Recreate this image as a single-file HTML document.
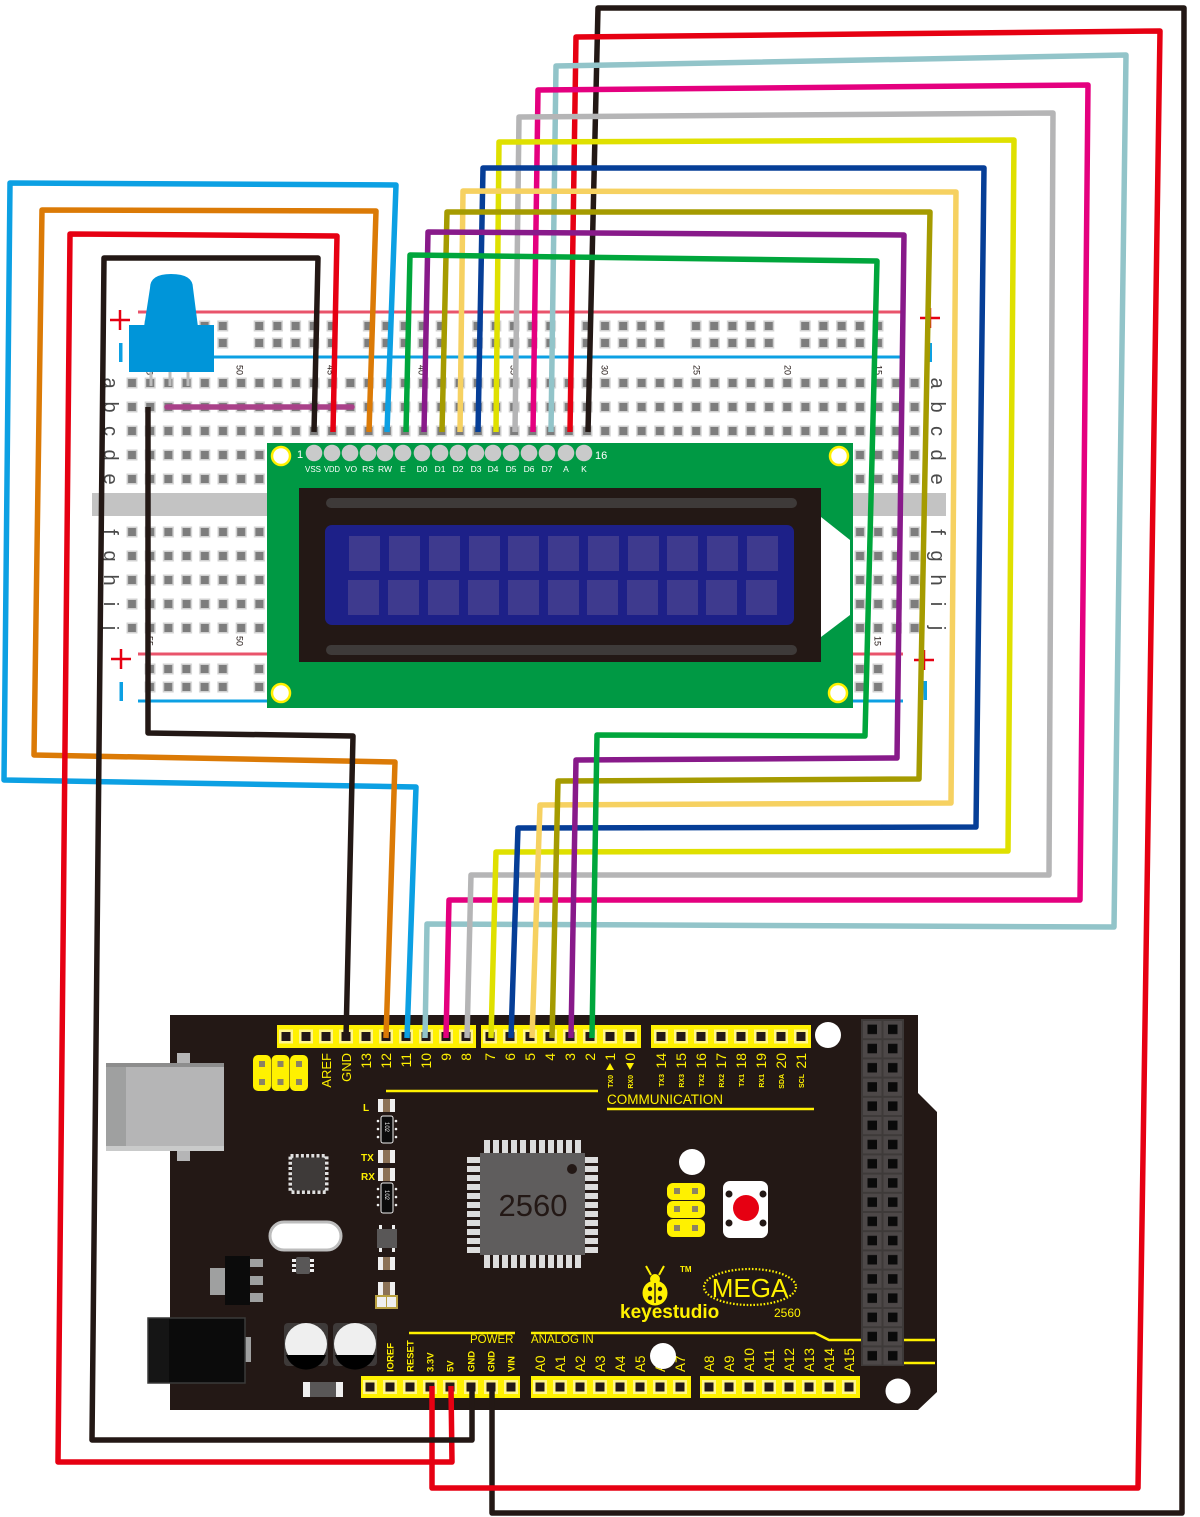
<!DOCTYPE html>
<html><head><meta charset="utf-8">
<style>
html,body{margin:0;padding:0;background:#fff;}
svg{display:block;}
text{font-family:"Liberation Sans",sans-serif;}
</style></head><body>
<svg width="1200" height="1517" viewBox="0 0 1200 1517" xmlns="http://www.w3.org/2000/svg">
<defs>
<pattern id="hA" x="122.9" y="371" width="18.2" height="24" patternUnits="userSpaceOnUse">
 <rect x="3.6" y="6.5" width="11" height="11" fill="#d2d2d2"/><rect x="5.1" y="8" width="8" height="8" fill="#7d7d7d"/>
</pattern>
<pattern id="hB" x="122.9" y="520" width="18.2" height="24" patternUnits="userSpaceOnUse">
 <rect x="3.6" y="6.5" width="11" height="11" fill="#d2d2d2"/><rect x="5.1" y="8" width="8" height="8" fill="#7d7d7d"/>
</pattern>
<pattern id="rT" x="140.9" y="317.5" width="109.2" height="17" patternUnits="userSpaceOnUse">
 <g fill="#d2d2d2"><rect x="3.6" y="3" width="11" height="11"/><rect x="21.8" y="3" width="11" height="11"/><rect x="40" y="3" width="11" height="11"/><rect x="58.2" y="3" width="11" height="11"/><rect x="76.4" y="3" width="11" height="11"/></g>
 <g fill="#7d7d7d"><rect x="5.1" y="4.5" width="8" height="8"/><rect x="23.3" y="4.5" width="8" height="8"/><rect x="41.5" y="4.5" width="8" height="8"/><rect x="59.7" y="4.5" width="8" height="8"/><rect x="77.9" y="4.5" width="8" height="8"/></g>
</pattern>
<pattern id="rB" x="140.9" y="660" width="109.2" height="18" patternUnits="userSpaceOnUse">
 <g fill="#d2d2d2"><rect x="3.6" y="3.5" width="11" height="11"/><rect x="21.8" y="3.5" width="11" height="11"/><rect x="40" y="3.5" width="11" height="11"/><rect x="58.2" y="3.5" width="11" height="11"/><rect x="76.4" y="3.5" width="11" height="11"/></g>
 <g fill="#7d7d7d"><rect x="5.1" y="5" width="8" height="8"/><rect x="23.3" y="5" width="8" height="8"/><rect x="41.5" y="5" width="8" height="8"/><rect x="59.7" y="5" width="8" height="8"/><rect x="77.9" y="5" width="8" height="8"/></g>
</pattern>
<pattern id="dh" x="862" y="1020" width="20.5" height="19.2" patternUnits="userSpaceOnUse">
 <rect x="1" y="1" width="18.5" height="17.2" fill="#4d4848"/><rect x="5.5" y="4.6" width="9.5" height="9.5" fill="#0a0a0a"/>
</pattern>
<g id="pin"><rect x="-7" y="-7" width="14" height="14" fill="#fff58c"/><rect x="-4.5" y="-4.5" width="9" height="9" fill="#231815"/></g>
<g id="led"><rect x="0" y="0" width="17" height="13" fill="#efefef"/><rect x="5" y="0" width="7" height="13" fill="#8c7256"/></g>
</defs>

<!-- ============ BREADBOARD ============ -->
<rect x="92" y="493" width="854" height="23" fill="#c3c3c3"/>
<line x1="138" y1="312" x2="905" y2="312" stroke="#e9546b" stroke-width="3"/>
<line x1="138" y1="357" x2="903" y2="357" stroke="#0ca0e3" stroke-width="3"/>
<line x1="138" y1="654" x2="903" y2="654" stroke="#e9546b" stroke-width="3"/>
<line x1="138" y1="701" x2="903" y2="701" stroke="#0ca0e3" stroke-width="3"/>
<rect x="140.9" y="317.5" width="746" height="34" fill="url(#rT)"/>
<rect x="140.9" y="660" width="746" height="36" fill="url(#rB)"/>
<rect x="122.9" y="371" width="800.8" height="120" fill="url(#hA)"/>
<rect x="122.9" y="520" width="800.8" height="120" fill="url(#hB)"/>
<!-- + / - marks -->
<g stroke="#e60012" stroke-width="2.5">
 <line x1="110" y1="320" x2="130" y2="320"/><line x1="120" y1="310" x2="120" y2="330"/>
 <line x1="920" y1="318" x2="940" y2="318"/><line x1="930" y1="308" x2="930" y2="328"/>
 <line x1="111" y1="659" x2="131" y2="659"/><line x1="121" y1="649" x2="121" y2="669"/>
 <line x1="914" y1="660" x2="934" y2="660"/><line x1="924" y1="650" x2="924" y2="670"/>
</g>
<g fill="#0ca0e3">
 <rect x="119" y="343" width="3.5" height="19"/><rect x="928.5" y="343" width="3.5" height="19"/>
 <rect x="119.5" y="682" width="3.5" height="19"/><rect x="923.5" y="681" width="3.5" height="19"/>
</g>
<!-- row letters -->
<g font-size="20" fill="#4a4a4a" text-anchor="middle">
 <text transform="translate(104,383) rotate(90)">a</text>
 <text transform="translate(104,407) rotate(90)">b</text>
 <text transform="translate(104,431) rotate(90)">c</text>
 <text transform="translate(104,455) rotate(90)">d</text>
 <text transform="translate(104,479) rotate(90)">e</text>
 <text transform="translate(104,532) rotate(90)">f</text>
 <text transform="translate(104,556) rotate(90)">g</text>
 <text transform="translate(104,580) rotate(90)">h</text>
 <text transform="translate(104,604) rotate(90)">i</text>
 <text transform="translate(104,628) rotate(90)">j</text>
 <text transform="translate(931,383) rotate(90)">a</text>
 <text transform="translate(931,407) rotate(90)">b</text>
 <text transform="translate(931,431) rotate(90)">c</text>
 <text transform="translate(931,455) rotate(90)">d</text>
 <text transform="translate(931,479) rotate(90)">e</text>
 <text transform="translate(931,532) rotate(90)">f</text>
 <text transform="translate(931,556) rotate(90)">g</text>
 <text transform="translate(931,580) rotate(90)">h</text>
 <text transform="translate(931,604) rotate(90)">i</text>
 <text transform="translate(931,628) rotate(90)">j</text>
</g>
<!-- column numbers -->
<g font-size="9" fill="#231815" text-anchor="middle">
 <text transform="translate(146.5,370) rotate(90)">55</text>
 <text transform="translate(236.5,370) rotate(90)">50</text>
 <text transform="translate(327.5,370) rotate(90)">45</text>
 <text transform="translate(418.5,370) rotate(90)">40</text>
 <text transform="translate(510.5,370) rotate(90)">35</text>
 <text transform="translate(601.5,370) rotate(90)">30</text>
 <text transform="translate(693.5,370) rotate(90)">25</text>
 <text transform="translate(784.5,370) rotate(90)">20</text>
 <text transform="translate(875.5,370) rotate(90)">15</text>
 <text transform="translate(146.5,641) rotate(90)">55</text>
 <text transform="translate(236.5,641) rotate(90)">50</text>
 <text transform="translate(874.5,641) rotate(90)">15</text>
</g>

<!-- potentiometer -->
<g>
 <line x1="151" y1="370" x2="151" y2="386" stroke="#bdbdbd" stroke-width="3"/>
 <line x1="170" y1="370" x2="170" y2="386" stroke="#bdbdbd" stroke-width="3"/>
 <line x1="188" y1="370" x2="188" y2="386" stroke="#bdbdbd" stroke-width="3"/>
 <path d="M150,288 Q150,274 171,274 Q193,274 193,288 L198,327 L144,327 Z" fill="#0095d9"/>
 <rect x="129" y="325" width="85" height="47" fill="#0095d9"/>
</g>
<!-- jumper -->
<line x1="167" y1="407" x2="352" y2="407" stroke="#a94189" stroke-width="5.5" stroke-linecap="round"/>

<!-- ============ LCD ============ -->
<rect x="267" y="443" width="586" height="265" fill="#009944"/>
<g fill="#fff" stroke="#fff100" stroke-width="2.5">
 <circle cx="281" cy="456" r="9"/><circle cx="839" cy="456" r="9"/>
 <circle cx="281" cy="693" r="9"/><circle cx="838" cy="693" r="9"/>
</g>
<rect x="299" y="488" width="522" height="174" fill="#231815"/>
<rect x="326" y="498" width="471" height="10" rx="5" fill="#3e3a39"/>
<rect x="326" y="645" width="471" height="10" rx="5" fill="#3e3a39"/>
<polygon points="821,517 850,540 850,615 821,637" fill="#fff"/>
<rect x="325" y="525" width="469" height="100" rx="7" fill="#1d2088"/>
<g fill="#3e3a8e">
 <rect x="349" y="536" width="31" height="35"/><rect x="389" y="536" width="31" height="35"/><rect x="429" y="536" width="31" height="35"/><rect x="469" y="536" width="31" height="35"/><rect x="508" y="536" width="31" height="35"/><rect x="548" y="536" width="31" height="35"/><rect x="588" y="536" width="31" height="35"/><rect x="628" y="536" width="31" height="35"/><rect x="667" y="536" width="31" height="35"/><rect x="707" y="536" width="31" height="35"/><rect x="747" y="536" width="31" height="35"/>
 <rect x="348" y="580" width="31" height="35"/><rect x="388" y="580" width="31" height="35"/><rect x="428" y="580" width="31" height="35"/><rect x="468" y="580" width="31" height="35"/><rect x="508" y="580" width="31" height="35"/><rect x="548" y="580" width="31" height="35"/><rect x="587" y="580" width="31" height="35"/><rect x="627" y="580" width="31" height="35"/><rect x="667" y="580" width="31" height="35"/><rect x="706" y="580" width="31" height="35"/><rect x="746" y="580" width="31" height="35"/>
</g>
<g fill="#c9caca">
 <circle cx="314" cy="453" r="8.3"/><circle cx="332" cy="453" r="8.3"/><circle cx="350" cy="453" r="8.3"/><circle cx="368" cy="453" r="8.3"/><circle cx="385" cy="453" r="8.3"/><circle cx="403" cy="453" r="8.3"/><circle cx="422" cy="453" r="8.3"/><circle cx="440" cy="453" r="8.3"/><circle cx="458" cy="453" r="8.3"/><circle cx="476" cy="453" r="8.3"/><circle cx="493" cy="453" r="8.3"/><circle cx="511" cy="453" r="8.3"/><circle cx="529" cy="453" r="8.3"/><circle cx="547" cy="453" r="8.3"/><circle cx="566" cy="453" r="8.3"/><circle cx="584" cy="453" r="8.3"/>
</g>
<g fill="#fff" font-size="8.5" text-anchor="middle">
 <text x="313" y="472" textLength="16" lengthAdjust="spacingAndGlyphs">VSS</text><text x="332" y="472" textLength="16" lengthAdjust="spacingAndGlyphs">VDD</text><text x="351" y="472">VO</text><text x="368" y="472">RS</text><text x="385" y="472">RW</text><text x="403" y="472">E</text><text x="422" y="472">D0</text><text x="440" y="472">D1</text><text x="458" y="472">D2</text><text x="476" y="472">D3</text><text x="493" y="472">D4</text><text x="511" y="472">D5</text><text x="529" y="472">D6</text><text x="547" y="472">D7</text><text x="566" y="472">A</text><text x="584" y="472">K</text>
</g>
<text x="297" y="458" font-size="11" fill="#fff">1</text>
<text x="595" y="459" font-size="11" fill="#fff">16</text>

<!-- ============ ARDUINO MEGA ============ -->
<polygon points="170,1015 918,1015 918,1093 937,1112 937,1392 918,1410 170,1410" fill="#231815"/>
<!-- USB -->
<rect x="177" y="1053" width="13" height="108" fill="#b5b5b6"/>
<rect x="106" y="1063" width="118" height="88" fill="#b5b5b6"/>
<rect x="106" y="1063" width="20" height="88" fill="#9fa0a0"/>
<rect x="106" y="1063" width="118" height="4" fill="#8d8d8d"/>
<rect x="106" y="1146" width="118" height="5" fill="#c9caca"/>
<!-- DC jack -->
<rect x="245" y="1337" width="6" height="25" fill="#9fa0a0"/>
<rect x="148" y="1318" width="97" height="65" fill="#0b0b0b" stroke="#3a3a3a" stroke-width="1.5"/>
<rect x="149" y="1319" width="20" height="63" fill="#151515"/>
<!-- capacitors -->
<rect x="284" y="1323" width="44" height="43" rx="4" fill="#3e3a39"/>
<rect x="333" y="1323" width="44" height="43" rx="4" fill="#3e3a39"/>
<circle cx="306" cy="1344" r="21" fill="#efefef"/><circle cx="355" cy="1344" r="21" fill="#efefef"/>
<path d="M286,1355 A21,21 0 0 0 326,1355 Z" fill="#000"/>
<path d="M335,1355 A21,21 0 0 0 375,1355 Z" fill="#000"/>
<!-- diode -->
<rect x="303" y="1382" width="40" height="15" fill="#efefef"/><rect x="310" y="1382" width="26" height="15" fill="#595757"/>
<!-- ICSP left -->
<g fill="#fff100"><rect x="253" y="1055" width="18" height="36" rx="5"/><rect x="271.5" y="1055" width="18" height="36" rx="5"/><rect x="290" y="1055" width="18" height="36" rx="5"/></g>
<g fill="#8c8462"><rect x="259" y="1061" width="6" height="6"/><rect x="259" y="1079" width="6" height="6"/><rect x="277.5" y="1061" width="6" height="6"/><rect x="277.5" y="1079" width="6" height="6"/><rect x="296" y="1061" width="6" height="6"/><rect x="296" y="1079" width="6" height="6"/></g>
<!-- QFN -->
<rect x="290.5" y="1156" width="36" height="36" fill="none" stroke="#e0e0e0" stroke-width="4" stroke-dasharray="3 2.2"/>
<rect x="292" y="1157.5" width="33" height="33" rx="2" fill="#3e3a39"/>
<!-- crystal -->
<rect x="270" y="1222" width="71" height="28" rx="14" fill="#fff" stroke="#bdbdbd" stroke-width="3"/>
<!-- small chip -->
<rect x="292" y="1259" width="22" height="3" fill="#efefef"/><rect x="292" y="1264" width="22" height="3" fill="#efefef"/><rect x="292" y="1269" width="22" height="3" fill="#efefef"/>
<rect x="296" y="1257" width="14" height="17" rx="2" fill="#595757"/>
<!-- regulator -->
<rect x="210" y="1268" width="16" height="27" fill="#9fa0a0"/>
<rect x="250" y="1259" width="13" height="8" fill="#9fa0a0"/><rect x="250" y="1276" width="13" height="9" fill="#9fa0a0"/><rect x="250" y="1293" width="13" height="9" fill="#9fa0a0"/>
<rect x="225" y="1256" width="25" height="49" fill="#0b0b0b"/>
<!-- L TX RX components -->
<use href="#led" x="378" y="1099"/>
<use href="#led" x="378" y="1150"/>
<use href="#led" x="378" y="1168"/>
<use href="#led" x="378" y="1257"/>
<use href="#led" x="378" y="1282"/>
<g>
 <rect x="381" y="1116" width="12" height="27" rx="2" fill="#0b0b0b" stroke="#efefef" stroke-width="1"/>
 <rect x="381" y="1183" width="12" height="30" rx="2" fill="#0b0b0b" stroke="#efefef" stroke-width="1"/>
 <g fill="#efefef"><circle cx="378" cy="1121" r="1.3"/><circle cx="378" cy="1129" r="1.3"/><circle cx="378" cy="1137" r="1.3"/><circle cx="396" cy="1121" r="1.3"/><circle cx="396" cy="1129" r="1.3"/><circle cx="396" cy="1137" r="1.3"/>
 <circle cx="378" cy="1189" r="1.3"/><circle cx="378" cy="1197" r="1.3"/><circle cx="378" cy="1205" r="1.3"/><circle cx="396" cy="1189" r="1.3"/><circle cx="396" cy="1197" r="1.3"/><circle cx="396" cy="1205" r="1.3"/></g>
 <text transform="translate(385,1122) rotate(90)" font-size="6" fill="#efefef">102</text>
 <text transform="translate(385,1190) rotate(90)" font-size="6" fill="#efefef">102</text>
 <rect x="379" y="1225" width="3" height="27" fill="#efefef"/><rect x="392" y="1225" width="3" height="27" fill="#efefef"/>
 <rect x="377" y="1229" width="20" height="19" fill="#595757"/>
 <rect x="375" y="1295" width="23" height="14" fill="#b8a040"/><rect x="377" y="1297" width="9" height="10" fill="#efefef"/><rect x="387" y="1297" width="9" height="10" fill="#efefef"/>
</g>
<g fill="#fff100" font-size="10" font-weight="bold">
 <text x="363" y="1111">L</text><text x="361" y="1161">TX</text><text x="361" y="1180">RX</text>
</g>
<!-- main chip -->
<g fill="#dcdcdc">
 <rect x="484" y="1140" width="6" height="14"/><rect x="493" y="1140" width="6" height="14"/><rect x="502" y="1140" width="6" height="14"/><rect x="511" y="1140" width="6" height="14"/><rect x="520" y="1140" width="6" height="14"/><rect x="530" y="1140" width="6" height="14"/><rect x="539" y="1140" width="6" height="14"/><rect x="548" y="1140" width="6" height="14"/><rect x="557" y="1140" width="6" height="14"/><rect x="566" y="1140" width="6" height="14"/><rect x="575" y="1140" width="6" height="14"/>
 <rect x="484" y="1254" width="6" height="14"/><rect x="493" y="1254" width="6" height="14"/><rect x="502" y="1254" width="6" height="14"/><rect x="511" y="1254" width="6" height="14"/><rect x="520" y="1254" width="6" height="14"/><rect x="530" y="1254" width="6" height="14"/><rect x="539" y="1254" width="6" height="14"/><rect x="548" y="1254" width="6" height="14"/><rect x="557" y="1254" width="6" height="14"/><rect x="566" y="1254" width="6" height="14"/><rect x="575" y="1254" width="6" height="14"/>
 <rect x="467" y="1157" width="14" height="6"/><rect x="467" y="1166" width="14" height="6"/><rect x="467" y="1175" width="14" height="6"/><rect x="467" y="1184" width="14" height="6"/><rect x="467" y="1193" width="14" height="6"/><rect x="467" y="1202" width="14" height="6"/><rect x="467" y="1211" width="14" height="6"/><rect x="467" y="1220" width="14" height="6"/><rect x="467" y="1229" width="14" height="6"/><rect x="467" y="1238" width="14" height="6"/><rect x="467" y="1247" width="14" height="6"/>
 <rect x="584" y="1157" width="14" height="6"/><rect x="584" y="1166" width="14" height="6"/><rect x="584" y="1175" width="14" height="6"/><rect x="584" y="1184" width="14" height="6"/><rect x="584" y="1193" width="14" height="6"/><rect x="584" y="1202" width="14" height="6"/><rect x="584" y="1211" width="14" height="6"/><rect x="584" y="1220" width="14" height="6"/><rect x="584" y="1229" width="14" height="6"/><rect x="584" y="1238" width="14" height="6"/><rect x="584" y="1247" width="14" height="6"/>
</g>
<rect x="480" y="1153" width="105" height="102" fill="#5f5d5d"/>
<circle cx="572" cy="1169" r="5" fill="#231815"/>
<text x="533" y="1216" font-size="31" fill="#231815" text-anchor="middle">2560</text>
<!-- middle ICSP, reset -->
<circle cx="692" cy="1162" r="13" fill="#fff"/>
<g fill="#fff100"><rect x="667" y="1183" width="38" height="17" rx="6"/><rect x="667" y="1201" width="38" height="17" rx="6"/><rect x="667" y="1219" width="38" height="18" rx="6"/></g>
<g fill="#8c8462"><rect x="674" y="1188" width="6" height="6"/><rect x="692" y="1188" width="6" height="6"/><rect x="674" y="1206" width="6" height="6"/><rect x="692" y="1206" width="6" height="6"/><rect x="674" y="1225" width="6" height="6"/><rect x="692" y="1225" width="6" height="6"/></g>
<rect x="723" y="1181" width="45" height="57" rx="7" fill="#fff"/>
<circle cx="746" cy="1208" r="13" fill="#e60012"/>
<g fill="#231815"><circle cx="729" cy="1194" r="3.5"/><circle cx="763" cy="1194" r="3.5"/><circle cx="729" cy="1223" r="3.5"/><circle cx="763" cy="1223" r="3.5"/></g>
<!-- logo -->
<g fill="#fff100">
 <circle cx="655" cy="1279" r="5"/>
 <circle cx="655" cy="1293" r="12.5"/>
 <line x1="651" y1="1275" x2="646" y2="1266" stroke="#fff100" stroke-width="2"/>
 <line x1="659" y1="1275" x2="664" y2="1266" stroke="#fff100" stroke-width="2"/>
</g>
<g fill="#231815"><circle cx="650" cy="1289" r="2.2"/><circle cx="660" cy="1289" r="2.2"/><circle cx="650" cy="1298" r="2.2"/><circle cx="660" cy="1298" r="2.2"/><rect x="654.3" y="1283" width="1.4" height="20"/></g>
<text x="680" y="1272" font-size="8" font-weight="bold" fill="#fff100">TM</text>
<text x="620" y="1318" font-size="19" font-weight="bold" fill="#fff100">keyestudio</text>
<ellipse cx="750" cy="1287" rx="46" ry="18" fill="none" stroke="#fff100" stroke-width="2.2" stroke-dasharray="1.6 1.8"/>
<text x="750" y="1297" font-size="26" fill="#fff100" text-anchor="middle">MEGA</text>
<text x="774" y="1317" font-size="12" fill="#fff100">2560</text>

<!-- yellow lines -->
<g stroke="#fff100" stroke-width="2.5" fill="none">
 <line x1="386" y1="1091" x2="598" y2="1091"/>
 <line x1="607" y1="1109" x2="814" y2="1109"/>
 <line x1="409" y1="1333" x2="515" y2="1333"/>
 <polyline points="531,1333 815,1333 829,1340 935,1340"/>
 <line x1="903" y1="1363" x2="935" y2="1363"/>
</g>
<!-- right double header -->
<rect x="861" y="1019" width="43" height="347" fill="#3e3a39"/>
<rect x="862" y="1020" width="41" height="345.6" fill="url(#dh)"/>

<!-- top headers -->
<g fill="#fff100"><rect x="277" y="1025" width="199" height="23"/><rect x="481" y="1025" width="160" height="23"/><rect x="651" y="1025" width="160" height="23"/></g>
<use href="#pin" x="286" y="1036.5"/><use href="#pin" x="306" y="1036.5"/><use href="#pin" x="326" y="1036.5"/><use href="#pin" x="346" y="1036.5"/><use href="#pin" x="366" y="1036.5"/><use href="#pin" x="386" y="1036.5"/><use href="#pin" x="406" y="1036.5"/><use href="#pin" x="426" y="1036.5"/><use href="#pin" x="446" y="1036.5"/><use href="#pin" x="466" y="1036.5"/>
<use href="#pin" x="490" y="1036.5"/><use href="#pin" x="510" y="1036.5"/><use href="#pin" x="530" y="1036.5"/><use href="#pin" x="550" y="1036.5"/><use href="#pin" x="570" y="1036.5"/><use href="#pin" x="590" y="1036.5"/><use href="#pin" x="610" y="1036.5"/><use href="#pin" x="630" y="1036.5"/>
<use href="#pin" x="661" y="1036.5"/><use href="#pin" x="681" y="1036.5"/><use href="#pin" x="701" y="1036.5"/><use href="#pin" x="721" y="1036.5"/><use href="#pin" x="741" y="1036.5"/><use href="#pin" x="761" y="1036.5"/><use href="#pin" x="781" y="1036.5"/><use href="#pin" x="801" y="1036.5"/>
<circle cx="828" cy="1035" r="13" fill="#fff"/>
<!-- top labels -->
<g fill="#fff100" text-anchor="end">
 <text transform="translate(331,1053) rotate(-90)" font-size="13">AREF</text>
 <text transform="translate(351,1053) rotate(-90)" font-size="13">GND</text>
 <g font-size="14">
 <text transform="translate(371,1053) rotate(-90)">13</text>
 <text transform="translate(391,1053) rotate(-90)">12</text>
 <text transform="translate(411,1053) rotate(-90)">11</text>
 <text transform="translate(431,1053) rotate(-90)">10</text>
 <text transform="translate(451,1053) rotate(-90)">9</text>
 <text transform="translate(471,1053) rotate(-90)">8</text>
 <text transform="translate(495,1053) rotate(-90)">7</text>
 <text transform="translate(515,1053) rotate(-90)">6</text>
 <text transform="translate(535,1053) rotate(-90)">5</text>
 <text transform="translate(555,1053) rotate(-90)">4</text>
 <text transform="translate(575,1053) rotate(-90)">3</text>
 <text transform="translate(595,1053) rotate(-90)">2</text>
 <text transform="translate(615,1053) rotate(-90)">1</text>
 <text transform="translate(635,1053) rotate(-90)">0</text>
 <text transform="translate(666,1053) rotate(-90)">14</text>
 <text transform="translate(686,1053) rotate(-90)">15</text>
 <text transform="translate(706,1053) rotate(-90)">16</text>
 <text transform="translate(726,1053) rotate(-90)">17</text>
 <text transform="translate(746,1053) rotate(-90)">18</text>
 <text transform="translate(766,1053) rotate(-90)">19</text>
 <text transform="translate(786,1053) rotate(-90)">20</text>
 <text transform="translate(806,1053) rotate(-90)">21</text>
 </g>
 <g font-size="7" font-weight="bold">
 <text transform="translate(613,1075) rotate(-90)">TX0</text>
 <text transform="translate(633,1075) rotate(-90)">RX0</text>
 <text transform="translate(664,1074) rotate(-90)">TX3</text>
 <text transform="translate(684,1074) rotate(-90)">RX3</text>
 <text transform="translate(704,1074) rotate(-90)">TX2</text>
 <text transform="translate(724,1074) rotate(-90)">RX2</text>
 <text transform="translate(744,1074) rotate(-90)">TX1</text>
 <text transform="translate(764,1074) rotate(-90)">RX1</text>
 <text transform="translate(784,1074) rotate(-90)">SDA</text>
 <text transform="translate(804,1074) rotate(-90)">SCL</text>
 </g>
</g>
<polygon points="606,1070 614,1070 610,1063" fill="#fff100"/>
<polygon points="626,1063 634,1063 630,1070" fill="#fff100"/>
<text x="607" y="1104" font-size="13.5" fill="#fff100">COMMUNICATION</text>

<!-- bottom headers -->
<g fill="#fff100"><rect x="361" y="1376" width="159" height="22"/><rect x="531" y="1376" width="160" height="22"/><rect x="700" y="1376" width="160" height="22"/></g>
<use href="#pin" x="370" y="1387"/><use href="#pin" x="390" y="1387"/><use href="#pin" x="410" y="1387"/><use href="#pin" x="430" y="1387"/><use href="#pin" x="450" y="1387"/><use href="#pin" x="471" y="1387"/><use href="#pin" x="491" y="1387"/><use href="#pin" x="511" y="1387"/>
<use href="#pin" x="540" y="1387"/><use href="#pin" x="560" y="1387"/><use href="#pin" x="580" y="1387"/><use href="#pin" x="600" y="1387"/><use href="#pin" x="620" y="1387"/><use href="#pin" x="640" y="1387"/><use href="#pin" x="660" y="1387"/><use href="#pin" x="680" y="1387"/>
<use href="#pin" x="709" y="1387"/><use href="#pin" x="729" y="1387"/><use href="#pin" x="749" y="1387"/><use href="#pin" x="769" y="1387"/><use href="#pin" x="789" y="1387"/><use href="#pin" x="809" y="1387"/><use href="#pin" x="829" y="1387"/><use href="#pin" x="849" y="1387"/>
<text x="470" y="1343" font-size="11.5" fill="#fff100">POWER</text>
<text x="531" y="1343" font-size="11.5" fill="#fff100">ANALOG IN</text>
<g fill="#fff100">
 <g font-size="9.5" font-weight="bold">
 <text transform="translate(393.5,1372) rotate(-90)">IOREF</text>
 <text transform="translate(413.5,1372) rotate(-90)">RESET</text>
 <text transform="translate(433.5,1372) rotate(-90)">3.3V</text>
 <text transform="translate(453.5,1372) rotate(-90)">5V</text>
 <text transform="translate(474.5,1372) rotate(-90)">GND</text>
 <text transform="translate(494.5,1372) rotate(-90)">GND</text>
 <text transform="translate(514.5,1372) rotate(-90)">VIN</text>
 </g>
 <g font-size="13.5">
 <text transform="translate(545,1372) rotate(-90)">A0</text>
 <text transform="translate(565,1372) rotate(-90)">A1</text>
 <text transform="translate(585,1372) rotate(-90)">A2</text>
 <text transform="translate(605,1372) rotate(-90)">A3</text>
 <text transform="translate(625,1372) rotate(-90)">A4</text>
 <text transform="translate(645,1372) rotate(-90)">A5</text>
 <text transform="translate(665,1372) rotate(-90)">A6</text>
 <text transform="translate(685,1372) rotate(-90)">A7</text>
 <text transform="translate(714,1372) rotate(-90)">A8</text>
 <text transform="translate(734,1372) rotate(-90)">A9</text>
 <text transform="translate(754,1372) rotate(-90)">A10</text>
 <text transform="translate(774,1372) rotate(-90)">A11</text>
 <text transform="translate(794,1372) rotate(-90)">A12</text>
 <text transform="translate(814,1372) rotate(-90)">A13</text>
 <text transform="translate(834,1372) rotate(-90)">A14</text>
 <text transform="translate(854,1372) rotate(-90)">A15</text>
 </g>
</g>
<circle cx="663" cy="1356" r="13" fill="#fff"/>
<circle cx="898" cy="1391" r="12.5" fill="#fff"/>

<!-- ============ WIRES ============ -->
<g fill="none" stroke-width="5.5" stroke-linejoin="round" stroke-linecap="butt">
 <polyline stroke="#231815" points="588,432 598,8 1184,8 1182,1513 492,1513 492,1386"/>
 <polyline stroke="#e60012" points="570,432 576,37 1160,31 1138,1488 432,1488 432,1386"/>
 <polyline stroke="#92c4c9" points="551,432 556,66 1126,55 1114,927 427,924 425,1038"/>
 <polyline stroke="#e4007f" points="533,432 538,90 1088,85 1080,900 449,900 446,1038"/>
 <polyline stroke="#b5b5b6" points="515,432 519,117 1053,113 1049,875 471,875 467,1038"/>
 <polyline stroke="#dfe000" points="496,432 499,142 1014,140 1008,851 496,852 491,1038"/>
 <polyline stroke="#063e97" points="478,432 483,168 984,168 976,827 518,828 511,1038"/>
 <polyline stroke="#f6d161" points="460,432 463,191 956,192 951,803 540,805 532,1038"/>
 <polyline stroke="#a59b00" points="442,432 447,212 930,212 919,779 558,781 552,1038"/>
 <polyline stroke="#881a8a" points="424,432 428,232 904,235 897,758 576,760 571,1038"/>
 <polyline stroke="#00a63c" points="406,432 410,255 877,261 865,736 597,735 592,1038"/>
 <polyline stroke="#0ca0e3" points="387,432 396,185 10,183 4,780 416,787 407,1038"/>
 <polyline stroke="#db7a06" points="369,432 376,211 42,210 34,755 395,762 386,1038"/>
 <polyline stroke="#e60012" points="333,432 337,236 70,234 58,1462 452,1462 451,1386"/>
 <polyline stroke="#231815" points="314,432 318,258 104,258 92,1440 472,1440 472,1386"/>
 <polyline stroke="#231815" points="148,407 148,733 353,736 346,1038"/>
</g>
</svg>
</body></html>
